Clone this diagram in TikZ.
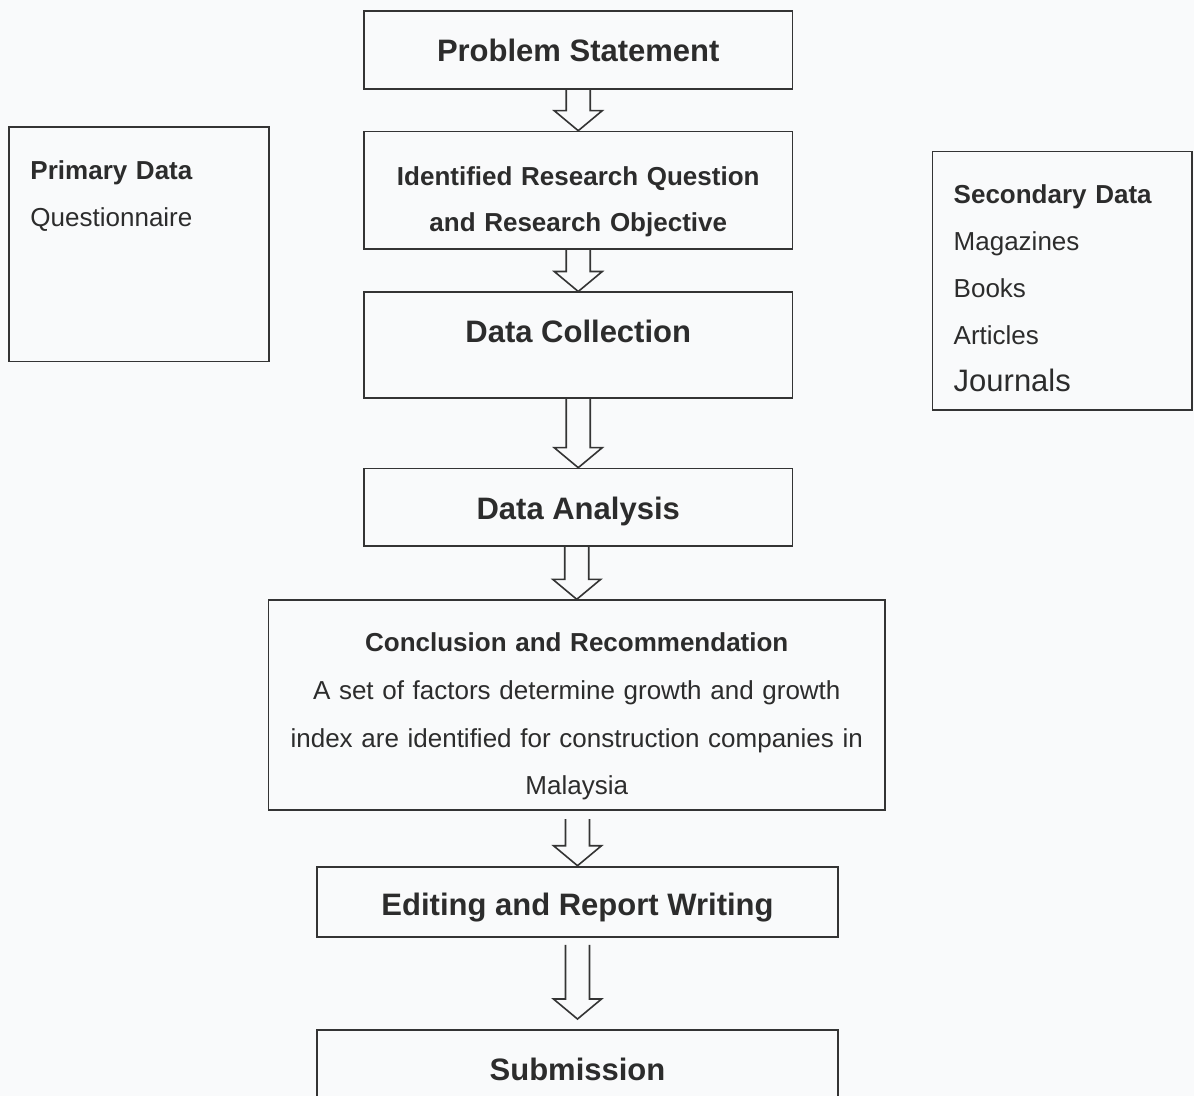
\documentclass[tikz,border=0pt]{standalone}
\usepackage{fontspec}
\setmainfont{Liberation Sans}
\usetikzlibrary{calc}
\definecolor{linecol}{RGB}{52,52,52}
\definecolor{textcol}{RGB}{44,44,44}
\definecolor{bgcol}{RGB}{249,250,251}
\tikzset{
  box/.style={draw=linecol, line width=0.9pt, rectangle, inner sep=0pt, anchor=north, text=textcol},
  mainbox/.style={box, minimum width=214.25pt, font=\fontsize{15.5pt}{23.5pt}\selectfont\bfseries},
  sidebox/.style={box, align=left, inner xsep=10.6pt, text width=108.5pt, font=\fontsize{13pt}{23.5pt}\selectfont},
  arrowline/.style={draw=linecol, line width=0.8pt, line join=miter}
}
% hollow block arrow: from, to, gap at start, gap at tip (pixels)
\newcommand{\hollowarrow}[4]{%
  \draw[arrowline] ($(#2.north |- #1.south)+(-12,#3)$) -- ($(#2.north)+(-12,-20-#4)$)
    -- ($(#2.north)+(-24,-20-#4)$) -- ($(#2.north)+(0,-#4)$) -- ($(#2.north)+(24,-20-#4)$)
    -- ($(#2.north)+(12,-20-#4)$) -- ($(#2.north |- #1.south)+(12,#3)$);}
\begin{document}
\begin{tikzpicture}[x=0.5pt, y=-0.5pt]
  \useasboundingbox (0,0) rectangle (1194,1096);
  \clip (0,0) rectangle (1194,1096);
  \fill[bgcol] (0,0) rectangle (1194,1096);

  %main chain
  \node[mainbox, text height=25.5pt, text depth=13.5pt] (ps) at (578.25,10) {Problem Statement};
  \node[mainbox, text width=214.25pt, align=center, font=\fontsize{13pt}{23pt}\selectfont\bfseries,
        text height=26.9pt, text depth=31.9pt] (irq) at (578.25,130.7)
        {Identified Research Question\\ and Research Objective};
  \node[mainbox, text height=25.25pt, text depth=27.5pt] (dc) at (578.25,291.5) {Data Collection};
  \node[mainbox, text height=25.4pt, text depth=13.25pt] (da) at (578.25,467.7) {Data Analysis};
  \node[box, text width=308.25pt, align=center, font=\fontsize{13pt}{23.8pt}\selectfont,
        text height=25.85pt, text depth=79.15pt] (cr) at (576.75,599.3)
        {\textbf{Conclusion and Recommendation}\\ A set of factors determine growth and growth\\
         index are identified for construction companies in\\ Malaysia};
  \node[mainbox, minimum width=260.5pt, text height=24.65pt, text depth=10.5pt] (erw) at (577.5,865.7)
        {Editing and Report Writing};
  \node[mainbox, minimum width=260.5pt, text height=25.5pt, text depth=40pt] (sub) at (577.5,1029)
        {Submission};

  %data sources
  \node[sidebox, text height=26.15pt, text depth=91.2pt] (pd) at (139,126)
        {\textbf{Primary Data}\\ Questionnaire};
  \node[sidebox, text height=26pt, text depth=103.3pt] (sd) at (1062.2,150.7)
        {\textbf{Secondary Data}\\ Magazines\\ Books\\ Articles\\ {\fontsize{15.5pt}{23.5pt}\selectfont Journals}};

  %arrows
  \foreach \a/\b/\s/\e in {ps/irq/0/0, irq/dc/0/0, dc/da/0/0, da/cr/0/0, cr/erw/8/0, erw/sub/7/10}
    \hollowarrow{\a}{\b}{\s}{\e};
\end{tikzpicture}
\end{document}
